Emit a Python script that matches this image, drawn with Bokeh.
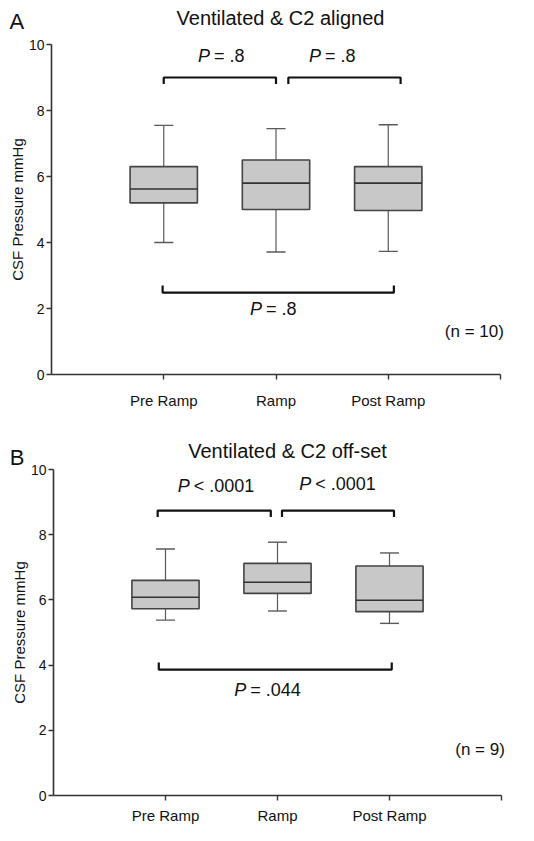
import numpy as np
from bokeh.plotting import figure
from bokeh.layouts import column
from bokeh.models import Range1d, FixedTicker, Label
from bokeh.embed import file_html
from bokeh.resources import INLINE

FONT = "Liberation Sans"

categories = ["Pre Ramp", "Ramp", "Post Ramp"]
cat_x = [1, 2, 3]
y_ticks = [0, 2, 4, 6, 8, 10]

# Panel A: Ventilated & C2 aligned (n = 10)
a_low = [4.0, 3.71, 3.73]
a_q1 = [5.2, 5.0, 4.97]
a_med = [5.62, 5.8, 5.8]
a_q3 = [6.3, 6.5, 6.3]
a_high = [7.55, 7.45, 7.57]
# brackets: x start, x end, bar y, tip y
a_brackets = [(1.0, 2.0, 9.0, 8.8), (2.11, 3.11, 9.0, 8.8), (0.99, 3.05, 2.48, 2.7)]
# p-value texts: italic part, rest, anchor x, y
a_ptexts = [("P", "= .8", 1.42, 9.65), ("P", "= .8", 2.41, 9.65), ("P", "= .8", 1.885, 1.98)]
a_title = "Ventilated & C2 aligned"
a_n = "(n = 10)"

# Panel B: Ventilated & C2 off-set (n = 9)
b_low = [5.38, 5.66, 5.28]
b_q1 = [5.73, 6.2, 5.64]
b_med = [6.08, 6.54, 5.99]
b_q3 = [6.6, 7.12, 7.04]
b_high = [7.56, 7.77, 7.44]
b_brackets = [(0.93, 1.94, 8.74, 8.54), (2.04, 3.04, 8.74, 8.54), (0.94, 3.02, 3.86, 4.08)]
b_ptexts = [("P", "< .0001", 1.225, 9.49), ("P", "< .0001", 2.31, 9.54), ("P", "= .044", 1.73, 3.25)]
b_title = "Ventilated & C2 off-set"
b_n = "(n = 9)"

W = 518


def make_panel(letter, title, ntext, low, q1, med, q3, high, brackets, ptexts,
               height, x0_px, px_per_x, y10_px, y0_px,
               label_standoff, title_xy, letter_xy, n_xy):
    # frame fills the whole figure; axes are fixed inside it
    px_per_y = (y0_px - y10_px) / 10.0
    xr = Range1d(-x0_px / px_per_x, (W - x0_px) / px_per_x)
    yr = Range1d(-(height - y0_px) / px_per_y, 10 + y10_px / px_per_y)
    p = figure(width=W, height=height, x_range=xr, y_range=yr,
               output_backend="svg", toolbar_location=None,
               min_border=0, min_border_left=0, min_border_right=0,
               min_border_top=0, min_border_bottom=0)
    p.outline_line_color = None
    p.xgrid.visible = False
    p.ygrid.visible = False

    bw = 0.6
    cw = 0.17
    xs = np.array(cat_x, dtype=float)
    # whiskers
    p.segment(x0=xs, y0=q3, x1=xs, y1=high, line_color="#5a5a5a", line_width=1.2)
    p.segment(x0=xs, y0=q1, x1=xs, y1=low, line_color="#5a5a5a", line_width=1.2)
    p.segment(x0=xs - cw / 2, y0=high, x1=xs + cw / 2, y1=high, line_color="#5a5a5a", line_width=1.4)
    p.segment(x0=xs - cw / 2, y0=low, x1=xs + cw / 2, y1=low, line_color="#5a5a5a", line_width=1.4)
    # boxes
    p.vbar(x=xs, top=q3, bottom=q1, width=bw, fill_color="#c8c8c8",
           line_color="#444444", line_width=1.6)
    p.segment(x0=xs - bw / 2, y0=med, x1=xs + bw / 2, y1=med, line_color="#333333", line_width=1.6)

    # significance brackets
    bxs, bys = [], []
    for (x0, x1, yb, yt) in brackets:
        bxs.append([x0, x0, x1, x1])
        bys.append([yt, yb, yb, yt])
    p.multi_line(xs=bxs, ys=bys, line_color="#111111", line_width=2.2)

    for (ital, rest, xa, ya) in ptexts:
        p.add_layout(Label(x=xa, y=ya, text=ital, text_align="right", text_baseline="middle",
                           text_font=FONT, text_font_style="italic", text_font_size="18px",
                           text_color="#111111", x_offset=-1))
        p.add_layout(Label(x=xa, y=ya, text=rest, text_align="left", text_baseline="middle",
                           text_font=FONT, text_font_size="18px", text_color="#111111", x_offset=3))

    p.add_layout(Label(x=title_xy[0], y=title_xy[1], text=title, text_align="center",
                       text_baseline="middle", text_font=FONT, text_font_size="20px",
                       text_color="#111111"))
    p.add_layout(Label(x=letter_xy[0], y=letter_xy[1], text=letter, text_align="left",
                       text_baseline="alphabetic", text_font=FONT, text_font_size="22px",
                       text_color="#111111"))
    p.add_layout(Label(x=n_xy[0], y=n_xy[1], text=ntext, text_align="right",
                       text_baseline="middle", text_font=FONT, text_font_size="17px",
                       text_color="#111111"))

    # axes
    p.xaxis.fixed_location = 0
    p.yaxis.fixed_location = 0
    p.xaxis.bounds = (0, 4)
    p.yaxis.bounds = (0, 10)
    p.xaxis.ticker = FixedTicker(ticks=cat_x + [4])
    overrides = {x: c for x, c in zip(cat_x, categories)}
    overrides[4] = ""
    p.xaxis.major_label_overrides = overrides
    p.yaxis.ticker = FixedTicker(ticks=y_ticks)
    p.yaxis.axis_label = "CSF Pressure mmHg"
    for ax in (p.xaxis, p.yaxis):
        ax.axis_line_color = "#333333"
        ax.axis_line_width = 1.6
        ax.major_tick_line_color = "#333333"
        ax.major_tick_line_width = 1.4
        ax.major_tick_out = 5
        ax.major_tick_in = 0
        ax.minor_tick_line_color = None
        ax.major_label_text_font = FONT
        ax.major_label_text_color = "#111111"
    p.xaxis.major_label_text_font_size = "15px"
    p.xaxis.major_label_standoff = label_standoff
    p.yaxis.major_label_text_font_size = "14px"
    p.yaxis.major_label_standoff = 2
    p.yaxis.axis_label_text_font = FONT
    p.yaxis.axis_label_text_font_size = "15px"
    p.yaxis.axis_label_text_font_style = "normal"
    p.yaxis.axis_label_text_color = "#111111"
    p.yaxis.axis_label_standoff = 0
    return p


pa = make_panel("A", a_title, a_n, a_low, a_q1, a_med, a_q3, a_high, a_brackets, a_ptexts,
                height=412, x0_px=51, px_per_x=112.25, y10_px=44, y0_px=374,
                label_standoff=12, title_xy=(2.04, 10.79), letter_xy=(-0.375, 10.71),
                n_xy=(4.03, 1.3))
pb = make_panel("B", b_title, b_n, b_low, b_q1, b_med, b_q3, b_high, b_brackets, b_ptexts,
                height=413, x0_px=53, px_per_x=112.0, y10_px=57, y0_px=383,
                label_standoff=6, title_xy=(2.09, 10.58), letter_xy=(-0.39, 10.37),
                n_xy=(4.03, 1.42))

layout = column(pa, pb, spacing=0)
open("out.html", "w").write(file_html(layout, INLINE))
